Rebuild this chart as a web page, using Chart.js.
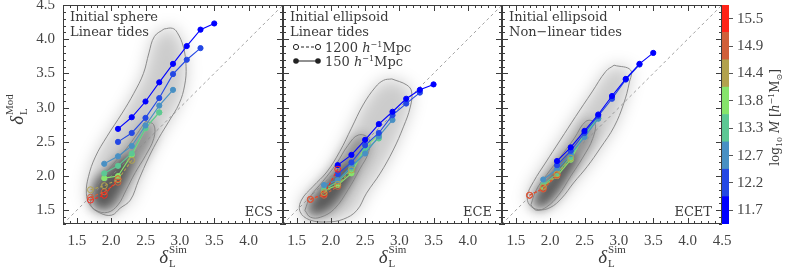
<!DOCTYPE html>
<html>
<head>
<meta charset="utf-8">
<script src="https://cdn.jsdelivr.net/npm/chart.js@4.4.0/dist/chart.umd.min.js"></script>
<style>
html, body { margin: 0; padding: 0; background: #fff; overflow: hidden; width: 789px; height: 271px; position: relative; }
canvas { position: absolute; }
</style>
</head>
<body>
<canvas id="ecs"></canvas>
<canvas id="ece"></canvas>
<canvas id="ecet"></canvas>
<canvas id="cbar"></canvas>
<script>
// bins of delta_L^Sim, mass bins (log10 M), colours of the colour bar
var xBins = [1.7, 1.9, 2.1, 2.3, 2.5, 2.7, 2.9, 3.1, 3.3, 3.5];
var massLabels = ['11.7', '12.2', '12.7', '13.3', '13.8', '14.4', '14.9', '15.5'];
var massColors = ['#0000ff', '#2448e4', '#4890c4', '#5cc894', '#86e46c', '#b2a24e', '#d0603a', '#ff2418'];
var axisTicks = [1.5, 2.0, 2.5, 3.0, 3.5, 4.0, 4.5];
var axisRange = [1.3, 4.5];

// delta_L^Mod, one row per mass bin, one column per xBins entry
var ecsY = [
    [null, null, 2.69, 2.86, 3.09, 3.37, 3.64, 3.90, 4.14, 4.23],
    [null, null, 2.50, 2.63, 2.85, 3.14, 3.49, 3.70, 3.87, null],
    [null, 2.18, 2.29, 2.44, 2.74, 3.03, 3.26, null, null, null],
    [null, 2.04, 2.15, 2.33, 2.70, 2.93, null, null, null, null],
    [null, 1.97, 2.00, 2.31, 2.70, 2.93, null, null, null, null],
    [1.80, 1.86, 1.95, 2.23, null, null, null, null, null, null],
    [1.69, 1.77, 1.91, null, null, null, null, null, null, null],
    [1.65, 1.72, 1.96, null, null, null, null, null, null, null]
];
var eceY = [
    [null, null, 2.16, 2.31, 2.53, 2.76, 2.94, 3.13, 3.26, 3.34],
    [null, null, 2.03, 2.20, 2.45, 2.63, 2.89, 3.06, 3.22, null],
    [null, 1.87, 1.94, 2.14, 2.33, 2.58, 2.82, null, null, null],
    [null, 1.80, 1.92, 2.11, 2.38, 2.55, null, null, null, null],
    [null, 1.79, 1.87, 2.04, 2.43, 2.60, null, null, null, null],
    [null, 1.76, 1.88, 2.09, null, null, null, null, null, null],
    [1.66, 1.72, 1.85, null, null, null, null, null, null, null],
    [1.66, 1.74, 2.10, null, null, null, null, null, null, null]
];
var ecetY = [
    [null, null, 2.22, 2.42, 2.66, 2.90, 3.17, 3.42, 3.64, 3.80],
    [null, null, 2.16, 2.37, 2.63, 2.88, 3.13, 3.41, 3.63, null],
    [null, 1.95, 2.10, 2.32, 2.57, 2.84, null, null, null, null],
    [null, 1.87, 2.04, 2.28, 2.60, 2.84, null, null, null, null],
    [null, 1.85, 2.00, 2.24, 2.62, 2.86, null, null, null, null],
    [null, 1.84, 2.03, 2.26, null, null, null, null, null, null],
    [1.72, 1.81, 2.01, null, null, null, null, null, null, null],
    [1.72, 1.82, 2.02, null, null, null, null, null, null, null]
];

// density contours [x, y]
var ecsOuter = [[2.77,4.15],[2.63,4.04],[2.55,3.80],[2.47,3.50],[2.33,3.21],[2.16,2.92],[1.94,2.58],[1.77,2.28],[1.67,1.99],[1.64,1.75],[1.69,1.58],[1.84,1.46],[2.01,1.43],[2.13,1.53],[2.28,1.65],[2.40,1.94],[2.55,2.28],[2.69,2.55],[2.84,2.80],[2.99,3.06],[3.07,3.33],[3.09,3.60],[3.05,3.89],[2.96,4.10],[2.89,4.16],[2.77,4.15]];
var ecsInner = [[2.50,2.80],[2.38,2.62],[2.22,2.40],[2.05,2.20],[1.88,1.98],[1.75,1.78],[1.70,1.60],[1.78,1.50],[1.95,1.47],[2.10,1.58],[2.22,1.80],[2.35,2.05],[2.50,2.30],[2.62,2.55],[2.62,2.75],[2.50,2.80]];
var ecsCore = [[1.75,1.95],[1.72,1.70],[1.80,1.55],[1.95,1.55],[2.10,1.75],[2.25,2.05],[2.30,2.30],[2.15,2.25],[1.95,2.10],[1.75,1.95]];
var eceOuter = [[2.89,3.42],[3.11,3.33],[3.18,3.23],[3.16,3.01],[3.06,2.72],[2.91,2.38],[2.72,2.04],[2.52,1.75],[2.38,1.50],[2.18,1.37],[1.94,1.33],[1.69,1.36],[1.55,1.48],[1.57,1.65],[1.74,1.85],[1.94,2.06],[2.13,2.36],[2.30,2.70],[2.47,3.04],[2.65,3.30],[2.77,3.40],[2.89,3.42]];
var eceInner = [[1.62,1.50],[1.70,1.70],[1.88,1.92],[2.08,2.18],[2.25,2.45],[2.40,2.60],[2.55,2.55],[2.55,2.35],[2.42,2.10],[2.25,1.80],[2.05,1.52],[1.85,1.40],[1.70,1.40],[1.62,1.50]];
var eceCore = [[1.70,1.55],[1.85,1.78],[2.05,2.00],[2.25,2.20],[2.35,2.15],[2.25,1.90],[2.05,1.62],[1.85,1.48],[1.70,1.48],[1.70,1.55]];
var ecetOuter = [[2.93,3.62],[3.17,3.55],[3.15,3.36],[3.07,3.06],[2.93,2.72],[2.73,2.41],[2.54,2.14],[2.34,1.90],[2.17,1.68],[2.00,1.54],[1.83,1.51],[1.70,1.58],[1.67,1.72],[1.76,1.92],[1.93,2.19],[2.15,2.53],[2.37,2.87],[2.61,3.23],[2.81,3.53],[2.93,3.62]];
var ecetInner = [[1.72,1.58],[1.80,1.80],[1.95,2.02],[2.15,2.28],[2.35,2.55],[2.52,2.80],[2.65,2.78],[2.62,2.55],[2.48,2.28],[2.30,2.00],[2.12,1.72],[1.95,1.55],[1.80,1.50],[1.72,1.58]];
var ecetCore = [[1.78,1.62],[1.90,1.85],[2.05,2.05],[2.25,2.30],[2.38,2.28],[2.28,2.05],[2.10,1.78],[1.95,1.60],[1.82,1.55],[1.78,1.62]];

var serif = '"DejaVu Serif"';
var tickFont = '"Liberation Serif"';
var ink = '#3a3a3a';

function pts(list) {
    return list.map(function (p) { return {x: p[0], y: p[1]}; });
}

// blurred density layers: the filter is set before the filler draws each one
function blurOf(chart, i) {
    var b = chart.data.datasets[i].blur;
    return b ? 'blur(' + b + 'px)' : 'none';
}
var blurPlugin = {
    id: 'blurLayers',
    beforeDatasetsDraw: function (chart) {
        var metas = chart.getSortedVisibleDatasetMetas();
        chart.ctx.filter = blurOf(chart, metas[metas.length - 1].index);
    },
    afterDatasetDraw: function (chart, args) {
        var metas = chart.getSortedVisibleDatasetMetas();
        var pos = metas.findIndex(function (m) { return m.index === args.index; });
        var next = metas[pos - 1];
        chart.ctx.filter = next ? blurOf(chart, next.index) : 'none';
    },
    afterDatasetsDraw: function (chart) { chart.ctx.filter = 'none'; }
};

// box with inward major/minor ticks on all four sides
function drawFrame(chart) {
    var ctx = chart.ctx, a = chart.chartArea, x = chart.scales.x, y = chart.scales.y;
    ctx.save();
    ctx.filter = 'none';
    ctx.setLineDash([]);
    ctx.strokeStyle = '#3c3c3c';
    ctx.lineWidth = 1;
    ctx.beginPath();
    ctx.rect(a.left + 0.5, a.top + 0.5, a.right - a.left - 1, a.bottom - a.top - 1);
    for (var k = Math.round(axisRange[0] * 10); k <= Math.round(axisRange[1] * 10); k++) {
        var v = k / 10, len = k % 5 === 0 ? 6 : 3;
        var px = Math.round(x.getPixelForValue(v)) + 0.5;
        var py = Math.round(y.getPixelForValue(v)) + 0.5;
        ctx.moveTo(px, a.bottom); ctx.lineTo(px, a.bottom - len);
        ctx.moveTo(px, a.top); ctx.lineTo(px, a.top + len);
        ctx.moveTo(a.left, py); ctx.lineTo(a.left + len, py);
        ctx.moveTo(a.right, py); ctx.lineTo(a.right - len, py);
    }
    ctx.stroke();
    ctx.restore();
}

function drawDelta(ctx, sup, cx, base) {
    ctx.font = 'italic 19px ' + tickFont;
    var dw = ctx.measureText('\u03b4').width;
    ctx.font = '11px ' + tickFont;
    var sw = Math.max(ctx.measureText(sup).width, ctx.measureText('L').width);
    var x0 = cx - (dw + 1 + sw) / 2;
    ctx.font = 'italic 19px ' + tickFont;
    ctx.fillText('\u03b4', x0, base);
    ctx.font = '11px ' + tickFont;
    ctx.fillText(sup, x0 + dw + 1, base - 10);
    ctx.fillText('L', x0 + dw + 1, base + 4);
}

// parts: [text, font, dy]
function richText(ctx, parts, x, y, centred) {
    var w = 0;
    parts.forEach(function (p) { ctx.font = p[1]; w += ctx.measureText(p[0]).width; });
    var cx = centred ? x - w / 2 : x;
    parts.forEach(function (p) {
        ctx.font = p[1];
        ctx.fillText(p[0], cx, y + (p[2] || 0));
        cx += ctx.measureText(p[0]).width;
    });
}

var textPlugin = {
    id: 'panelText',
    afterDraw: function (chart, args, o) {
        drawFrame(chart);
        var ctx = chart.ctx, a = chart.chartArea;
        ctx.save();
        ctx.filter = 'none';
        ctx.fillStyle = ink;
        ctx.textBaseline = 'alphabetic';
        ctx.font = '13px ' + serif;
        ctx.textAlign = 'left';
        o.lines.forEach(function (t, i) { ctx.fillText(t, a.left + 7, a.top + 16 + i * 14.5); });
        ctx.textAlign = 'right';
        ctx.fillText(o.tag, a.right - 10, a.bottom - 8);
        ctx.textAlign = 'left';
        drawDelta(ctx, 'Sim', (a.left + a.right) / 2, a.bottom + 39);
        if (o.yTitle) {
            ctx.save();
            ctx.translate(a.left - 40, (a.top + a.bottom) / 2 - 5);
            ctx.rotate(-Math.PI / 2);
            drawDelta(ctx, 'Mod', 0, 0);
            ctx.restore();
        }
        if (o.legend) {
            var x1 = a.left + 13, x2 = a.left + 35;
            [['1200', true], ['150', false]].forEach(function (row, i) {
                var yy = a.top + 42 + i * 14;
                ctx.strokeStyle = '#222';
                ctx.fillStyle = '#222';
                ctx.lineWidth = 1;
                ctx.setLineDash(row[1] ? [3, 2] : []);
                ctx.beginPath(); ctx.moveTo(x1, yy); ctx.lineTo(x2, yy); ctx.stroke();
                ctx.setLineDash([]);
                [x1, x2].forEach(function (px) {
                    ctx.beginPath();
                    ctx.arc(px, yy, row[1] ? 2.6 : 2.8, 0, Math.PI * 2);
                    if (row[1]) { ctx.fillStyle = '#fff'; ctx.fill(); ctx.stroke(); } else { ctx.fill(); }
                });
                ctx.fillStyle = ink;
                richText(ctx, [
                    [row[0] + ' ', '13px ' + serif],
                    ['h', 'italic 13px ' + serif],
                    ['\u22121', '8px ' + serif, -5],
                    ['Mpc', '13px ' + serif]
                ], x2 + 7, yy + 5, false);
            });
        }
        ctx.restore();
    }
};

function buildDatasets(ys, outer, inner, core) {
    var ds = [];
    [[outer, 0.2, 8, 9], [inner, 0.3, 6, 8], [core, 0.38, 5, 7]].forEach(function (l) {
        ds.push({data: pts(l[0]), fill: 'shape', backgroundColor: 'rgba(0,0,0,' + l[1] + ')',
            borderColor: 'rgba(0,0,0,0)', borderWidth: 0, pointRadius: 0, tension: 0.4, blur: l[2], order: l[3]});
    });
    [outer, inner].forEach(function (c) {
        ds.push({data: pts(c), fill: false, borderColor: '#808080', borderWidth: 0.9, pointRadius: 0, tension: 0.4, order: 6});
    });
    ds.push({data: axisRange.map(function (v) { return {x: v, y: v}; }), borderColor: '#8c8c8c', borderWidth: 0.8,
        borderDash: [3, 3], pointRadius: 0, fill: false, order: 5});
    ys.forEach(function (row, m) {
        var open = m >= 5;
        var data = [];
        xBins.forEach(function (x, i) { if (row[i] !== null) data.push({x: x, y: row[i]}); });
        ds.push({
            data: data, fill: false, borderColor: massColors[m], borderWidth: 1.1,
            borderDash: open ? [3, 2] : [],
            pointRadius: open ? 3 : 2.6, pointBorderWidth: 1,
            pointBackgroundColor: open ? 'rgba(255,255,255,0)' : massColors[m],
            pointBorderColor: massColors[m], order: open ? 0 : 1
        });
    });
    return ds;
}

function axis(show, hideLast, fitSide) {
    var cfg = {
        type: 'linear', min: axisRange[0], max: axisRange[1], display: show,
        afterBuildTicks: function (s) { s.ticks = axisTicks.map(function (v) { return {value: v}; }); },
        ticks: {
            autoSkip: false, maxRotation: 0, padding: 8, color: '#444',
            font: {family: tickFont, size: 15},
            callback: function (v) { return hideLast && v >= 4.5 ? '' : v.toFixed(1); }
        },
        grid: {display: false, drawTicks: false},
        border: {display: false}
    };
    if (show) cfg.afterFit = fitSide;
    return cfg;
}

var panels = [
    {id: 'ecs', left: 63, width: 220, ys: ecsY, outer: ecsOuter, inner: ecsInner, core: ecsCore,
        tag: 'ECS', lines: ['Initial sphere', 'Linear tides'], first: true, last: false},
    {id: 'ece', left: 283, width: 219, ys: eceY, outer: eceOuter, inner: eceInner, core: eceCore,
        tag: 'ECE', lines: ['Initial ellipsoid', 'Linear tides'], legend: true, first: false, last: false},
    {id: 'ecet', left: 502, width: 220, ys: ecetY, outer: ecetOuter, inner: ecetInner, core: ecetCore,
        tag: 'ECET', lines: ['Initial ellipsoid', 'Non\u2212linear tides'], first: false, last: true}
];

panels.forEach(function (p) {
    var cv = document.getElementById(p.id);
    cv.width = 63 + p.width + 30;
    cv.height = 291;
    cv.style.left = (p.left - 63) + 'px';
    cv.style.top = '-20px';
    new Chart(cv.getContext('2d'), {
        type: 'line',
        data: {datasets: buildDatasets(p.ys, p.outer, p.inner, p.core)},
        plugins: [blurPlugin, textPlugin],
        options: {
            responsive: false,
            animation: false,
            events: [],
            layout: {padding: {left: p.first ? 0 : 63, right: 30, top: 25, bottom: 0}},
            plugins: {
                legend: {display: false},
                tooltip: {enabled: false},
                panelText: {lines: p.lines, tag: p.tag, legend: !!p.legend, yTitle: p.first}
            },
            scales: {
                x: axis(true, !p.last, function (s) { s.height = 47; }),
                y: axis(p.first, false, function (s) { s.width = 63; })
            }
        }
    });
});

// colour bar
var cb = document.getElementById('cbar');
cb.width = 67;
cb.height = 291;
cb.style.left = '722px';
cb.style.top = '-20px';
new Chart(cb.getContext('2d'), {
    type: 'bar',
    data: {
        labels: [''],
        datasets: massLabels.map(function (m, i) {
            return {data: [1], backgroundColor: massColors[i], borderWidth: 0, barPercentage: 1, categoryPercentage: 1};
        })
    },
    plugins: [{
        id: 'cbTitle',
        afterDraw: function (chart) {
            var ctx = chart.ctx, a = chart.chartArea;
            ctx.save();
            ctx.fillStyle = ink;
            ctx.translate(a.right + 50, (a.top + a.bottom) / 2 + 3);
            ctx.rotate(-Math.PI / 2);
            richText(ctx, [
                ['log', '12px ' + serif],
                ['10', '8px ' + serif, 3],
                [' ', '12px ' + serif],
                ['M', 'italic 12px ' + serif],
                [' [', '12px ' + serif],
                ['h', 'italic 12px ' + serif],
                ['\u22121', '8px ' + serif, -5],
                ['M', '12px ' + serif],
                ['\u2299', '8px ' + serif, 3],
                [']', '12px ' + serif]
            ], 0, 0, true);
            ctx.restore();
        }
    }],
    options: {
        responsive: false,
        animation: false,
        events: [],
        layout: {padding: {left: 0, right: 0, top: 25, bottom: 47}},
        plugins: {legend: {display: false}, tooltip: {enabled: false}},
        scales: {
            x: {display: false, stacked: true},
            y: {
                stacked: true, position: 'right', min: 0, max: massLabels.length,
                afterBuildTicks: function (s) { s.ticks = massLabels.map(function (m, i) { return {value: i + 0.5}; }); },
                afterFit: function (s) { s.width = 60; },
                ticks: {
                    padding: 4, color: '#444', font: {family: tickFont, size: 15},
                    callback: function (v, i) { return massLabels[i]; }
                },
                grid: {drawOnChartArea: false, tickLength: 4, color: '#555'},
                border: {display: false}
            }
        }
    }
});
</script>
</body>
</html>
